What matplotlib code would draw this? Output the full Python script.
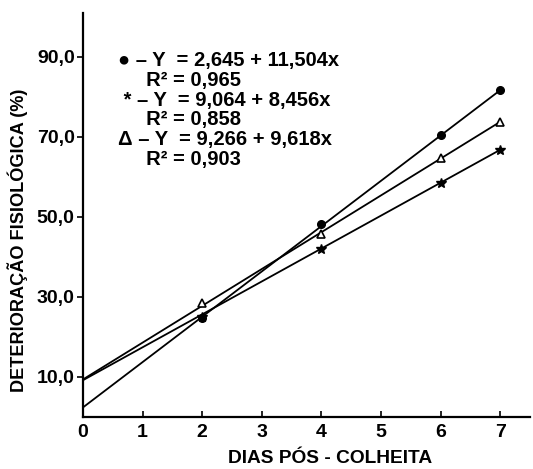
import matplotlib
matplotlib.use("Agg")
import matplotlib.pyplot as plt
from matplotlib import font_manager

names = {f.name for f in font_manager.fontManager.ttflist}
fam = [n for n in ['Liberation Sans', 'DejaVu Sans'] if n in names]
plt.rcParams['font.family'] = fam
plt.rcParams['font.weight'] = 'bold'

# data
days = [2, 4, 6, 7]
dot_vals = [24.8, 48.2, 70.5, 81.7]
star_vals = [25.0, 42.0, 58.5, 66.8]
tri_vals = [28.5, 45.8, 64.8, 73.8]

line_x = [0, 7]
dot_line = [2.4, 81.7]
star_line = [9.2, 66.8]
tri_line = [9.4, 73.8]

xticks = [0, 1, 2, 3, 4, 5, 6, 7]
yticks = [10, 30, 50, 70, 90]
ytick_labels = ['10,0', '30,0', '50,0', '70,0', '90,0']

eq_lines = ['● – Y  = 2,645 + 11,504x',
            '     R² = 0,965',
            ' * – Y  = 9,064 + 8,456x',
            '     R² = 0,858',
            'Δ – Y  = 9,266 + 9,618x',
            '     R² = 0,903']

W, H = 533, 469
fig = plt.figure(figsize=(W / 100, H / 100), dpi=100)
ax = fig.add_axes([83 / W, 1 - 417 / H, (530 - 83) / W, (417 - 13) / H])

lw = 1.3
ax.plot(line_x, dot_line, color='black', lw=lw)
ax.plot(line_x, star_line, color='black', lw=lw)
ax.plot(line_x, tri_line, color='black', lw=lw)
ax.plot(days, dot_vals, 'o', color='black', ms=5.5, ls='none')
ax.plot(days, star_vals, '*', color='black', ms=7, ls='none')
ax.plot(days, tri_vals, '^', mfc='white', mec='black', mew=1.2, ms=5.5, ls='none')

ax.set_xlim(0, 7.5)
ax.set_ylim(0, 101)
ax.set_xticks(xticks)
ax.set_xticklabels([str(v) for v in xticks])
ax.set_yticks(yticks)
ax.set_yticklabels(ytick_labels)
for s in ['top', 'right']:
    ax.spines[s].set_visible(False)
for s in ['left', 'bottom']:
    ax.spines[s].set_linewidth(1.6)
ax.tick_params(axis='x', direction='in', length=4, width=1.2, labelsize=14, pad=5)
ax.tick_params(axis='y', direction='out', length=4, width=1.2, labelsize=14, pad=2)
for lab in ax.get_xticklabels() + ax.get_yticklabels():
    lab.set_fontweight('bold')

fig.text(18 / W, 1 - 240 / H, 'DETERIORAÇÃO FISIOLÓGICA (%)', rotation=90,
         ha='center', va='center', fontsize=13.1, fontweight='bold')
fig.text(330 / W, 1 - 458 / H, 'DIAS PÓS - COLHEITA', ha='center', va='center',
         fontsize=13.8, fontweight='bold')

fig.text(118 / W, 1 - 110 / H, '\n'.join(eq_lines), ha='left', va='center',
         fontsize=14.5, fontweight='bold', linespacing=1.05)

fig.savefig('out.png', dpi=100)
